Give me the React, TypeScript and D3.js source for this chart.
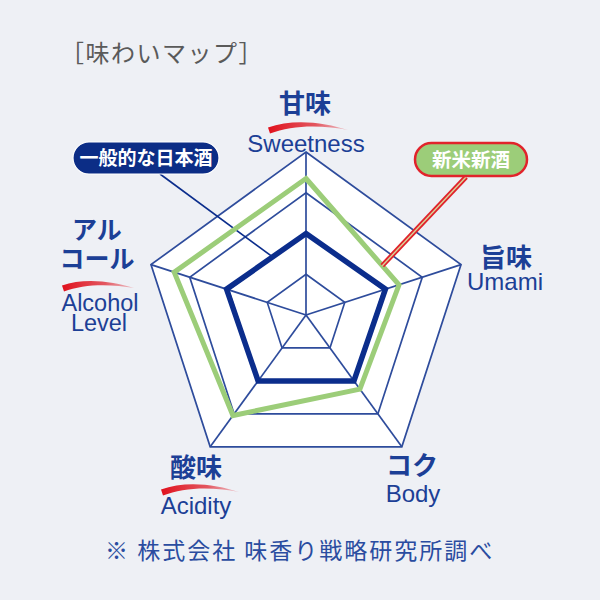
import React from "react";
import * as d3 from "d3";

// ---- data ----
const axisJa = ["甘味", "旨味", "コク", "酸味", "アルコール"];
const axisEn = ["Sweetness", "Umami", "Body", "Acidity", "Alcohol Level"];
const ringLevels = [1, 2, 3, 4];
const generalSake = [2, 2.05, 2, 2, 2.05];
const shinmaiSake = [3.35, 2.4, 2.25, 3.05, 3.4];
const seriesNames = ["一般的な日本酒", "新米新酒"];
const titleText = "［味わいマップ］";
const noteText = "※ 株式会社 味香り戦略研究所調べ";

// ---- layout ----
const W = 600;
const H = 600;
const cx = 306;
const cy = 315;
const R = 163;
const NAVY = "#1c3f96";
const GRID = "#2e4c9c";
const BLUE = "#0b2d8c";
const GREEN = "#9ccd79";
const RED = "#e1232b";
const JA_FONT = "'Noto Sans CJK JP', 'Noto Sans', sans-serif";
const EN_FONT = "'Liberation Sans', Arial, sans-serif";

const r = d3.scaleLinear().domain([0, 4]).range([0, R]);
const angle = d3
  .scaleLinear()
  .domain([0, axisJa.length])
  .range([-Math.PI / 2, (3 * Math.PI) / 2]);

function pt(i: number, v: number): [number, number] {
  const a = angle(i);
  return [cx + r(v) * Math.cos(a), cy + r(v) * Math.sin(a)];
}
const closed = d3.line().curve(d3.curveLinearClosed);
function poly(vals: number[]) {
  return closed(vals.map((v, i) => pt(i, v))) as string;
}
function edgePoint(vals: number[], i: number, j: number, t: number): [number, number] {
  const a = pt(i, vals[i]);
  const b = pt(j, vals[j]);
  return [a[0] + (b[0] - a[0]) * t, a[1] + (b[1] - a[1]) * t];
}

function brush(x0: number, x1: number, y: number, rise: number, thick: number) {
  const w = x1 - x0;
  const p = d3.path();
  p.moveTo(x0, y - thick * 0.4);
  p.bezierCurveTo(x0 + 0.3 * w, y - rise - thick * 0.6, x0 + 0.7 * w, y - rise, x1, y);
  p.bezierCurveTo(x0 + 0.7 * w, y - rise + thick * 0.5, x0 + 0.3 * w, y - rise + thick * 0.4, x0 + 2, y + thick * 0.6);
  p.closePath();
  return p.toString();
}

export default function App() {
  const outer = ringLevels.map((l) => axisJa.map(() => l));
  const c1End = edgePoint(generalSake, 0, 4, 0.42);
  const c2End = edgePoint(shinmaiSake, 0, 1, 0.82);

  const jaStyle = { fontFamily: JA_FONT, fontWeight: 700, fontSize: 26, fill: NAVY } as const;
  const enStyle = { fontFamily: EN_FONT, fontSize: 24, fill: NAVY } as const;

  return (
    <div style={{ position: "fixed", left: 0, top: 0 }}>
      <svg width={W} height={H} viewBox={`0 0 ${W} ${H}`}>
        <defs>
          <linearGradient id="brushGrad" x1="0" x2="1" y1="0" y2="0">
            <stop offset="0" stopColor="#e0101c" stopOpacity={1} />
            <stop offset="0.6" stopColor="#e0303a" stopOpacity={0.8} />
            <stop offset="1" stopColor="#e8606a" stopOpacity={0.35} />
          </linearGradient>
        </defs>
        <rect width={W} height={H} fill="#eef0f5" />
        <text x={60} y={62} style={{ fontFamily: JA_FONT, fontSize: 24, letterSpacing: 1.5, fill: "#5a5a5a" }}>
          {titleText}
        </text>

        {/* grid */}
        <path d={poly(outer[outer.length - 1])} fill="#ffffff" />
        {outer.map((ring, k) => (
          <path key={k} d={poly(ring)} fill="none" stroke={GRID} strokeWidth={1.7} />
        ))}
        {axisJa.map((_, i) => {
          const [x, y] = pt(i, 4);
          return <line key={i} x1={cx} y1={cy} x2={x} y2={y} stroke={GRID} strokeWidth={1.7} />;
        })}

        {/* callout lines */}
        <line x1={160} y1={174} x2={c1End[0]} y2={c1End[1]} stroke={BLUE} strokeWidth={1.6} />

        {/* series */}
        <path d={poly(shinmaiSake)} fill="none" stroke={GREEN} strokeWidth={5} strokeLinejoin="miter" />
        <path d={poly(generalSake)} fill="none" stroke={BLUE} strokeWidth={5.5} strokeLinejoin="miter" />

        <line x1={466} y1={177} x2={c2End[0]} y2={c2End[1]} stroke={RED} strokeWidth={5} />
        <line x1={466} y1={177} x2={c2End[0]} y2={c2End[1]} stroke="#d9d39a" strokeWidth={1.4} />

        {/* pills */}
        <rect x={73} y={142} width={146} height={32} rx={16} fill="#0c2d86" stroke="#ffffff" strokeWidth={1.2} />
        <text x={146} y={165} textAnchor="middle" style={{ fontFamily: JA_FONT, fontWeight: 700, fontSize: 19, fill: "#fff" }}>
          {seriesNames[0]}
        </text>
        <rect x={415} y={143} width={112} height={33} rx={16.5} fill={GREEN} stroke={RED} strokeWidth={2.5} />
        <text x={471} y={167} textAnchor="middle" style={{ fontFamily: JA_FONT, fontWeight: 700, fontSize: 19.5, fill: "#fff" }}>
          {seriesNames[1]}
        </text>

        {/* brush strokes */}
        <path d={brush(268, 348, 130, 8, 6)} fill="url(#brushGrad)" />
        <path d={brush(62, 134, 288, 7, 6)} fill="url(#brushGrad)" />
        <path d={brush(161, 239, 492, 8, 6)} fill="url(#brushGrad)" />

        {/* axis labels */}
        <text x={305} y={113} textAnchor="middle" style={jaStyle}>{axisJa[0]}</text>
        <text x={306} y={152} textAnchor="middle" style={enStyle}>{axisEn[0]}</text>

        <text x={506} y={267} textAnchor="middle" style={jaStyle}>{axisJa[1]}</text>
        <text x={505} y={290} textAnchor="middle" style={enStyle}>{axisEn[1]}</text>

        <text x={412} y={475} textAnchor="middle" style={jaStyle}>{axisJa[2]}</text>
        <text x={413} y={502} textAnchor="middle" style={enStyle}>{axisEn[2]}</text>

        <text x={196} y={477} textAnchor="middle" style={jaStyle}>{axisJa[3]}</text>
        <text x={196} y={514} textAnchor="middle" style={enStyle}>{axisEn[3]}</text>

        <text x={97} y={239} textAnchor="middle" style={{ ...jaStyle, fontSize: 25 }}>{axisJa[4].slice(0, 2)}</text>
        <text x={97} y={268} textAnchor="middle" style={{ ...jaStyle, fontSize: 25 }}>{axisJa[4].slice(2)}</text>
        <text x={100} y={311} textAnchor="middle" style={{ ...enStyle, fontSize: 23.5 }}>{axisEn[4].split(" ")[0]}</text>
        <text x={99} y={331} textAnchor="middle" style={{ ...enStyle, fontSize: 23.5 }}>{axisEn[4].split(" ")[1]}</text>

        <text x={105} y={559} style={{ fontFamily: JA_FONT, fontSize: 23, letterSpacing: 2, fill: "#2a4ca0" }}>
          {noteText}
        </text>
      </svg>
    </div>
  );
}
